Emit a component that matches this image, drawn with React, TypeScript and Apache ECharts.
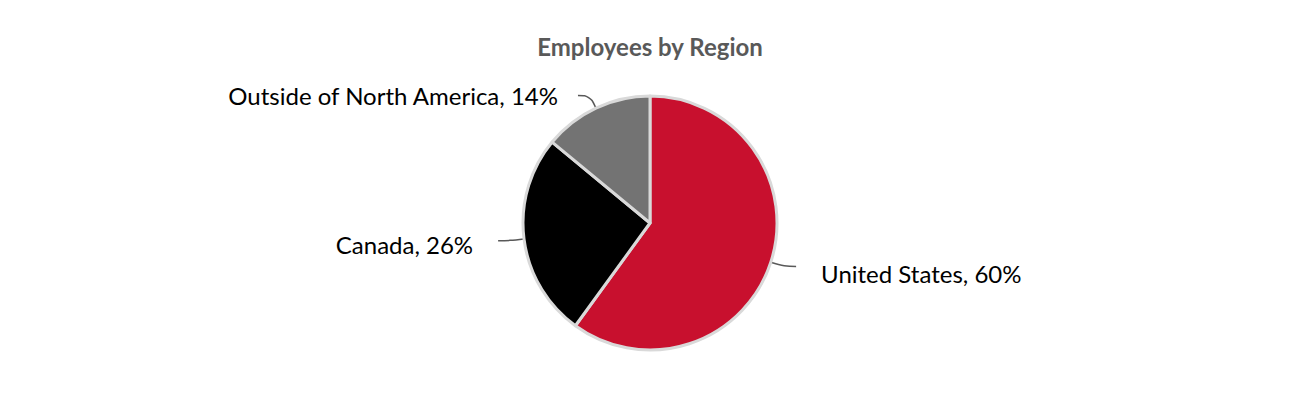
import React, { useEffect, useRef } from "react";
import * as echarts from "echarts";

const TITLE = "Employees by Region";
const categories = ["United States", "Canada", "Outside of North America"];
const values = [60, 26, 14];
const colors = ["#C8102E", "#000000", "#737373"];

export default function App() {
  const ref = useRef<HTMLDivElement>(null);
  useEffect(() => {
    if (!ref.current) return;
    const chart = echarts.init(ref.current, null, { renderer: "svg" });
    chart.setOption({
      animation: false,
      title: {
        text: TITLE,
        left: "center",
        top: 21,
        textStyle: { fontFamily: "Lato", fontWeight: "bold", fontSize: 24, color: "#595959" },
      },
      series: [
        {
          type: "pie",
          center: [642, 215],
          radius: 127,
          startAngle: 90,
          clockwise: true,
          data: categories.map((c, i) => ({ name: c, value: values[i], itemStyle: { color: colors[i] } })),
          itemStyle: { borderColor: "#D9D9D9", borderWidth: 3 },
          label: {
            show: true,
            position: "outside",
            formatter: "{b}, {c}%",
            color: "#000000",
            fontFamily: "Lato",
            fontSize: 24,
            distanceToLabelLine: 20,
          },
          labelLine: {
            show: true,
            length: 14,
            length2: 12,
            smooth: 0.4,
            lineStyle: { color: "#595959", width: 1.5 },
          },
          labelLayout: (params: any) => {
            if (params.dataIndex === 0) return { dx: 5, dy: 7 };
            if (params.dataIndex === 1) return { dx: -5, dy: 4 };
            return {};
          },
        },
      ],
    });
    return () => chart.dispose();
  }, []);
  return <div ref={ref} style={{ width: 1284, height: 384 }} />;
}
